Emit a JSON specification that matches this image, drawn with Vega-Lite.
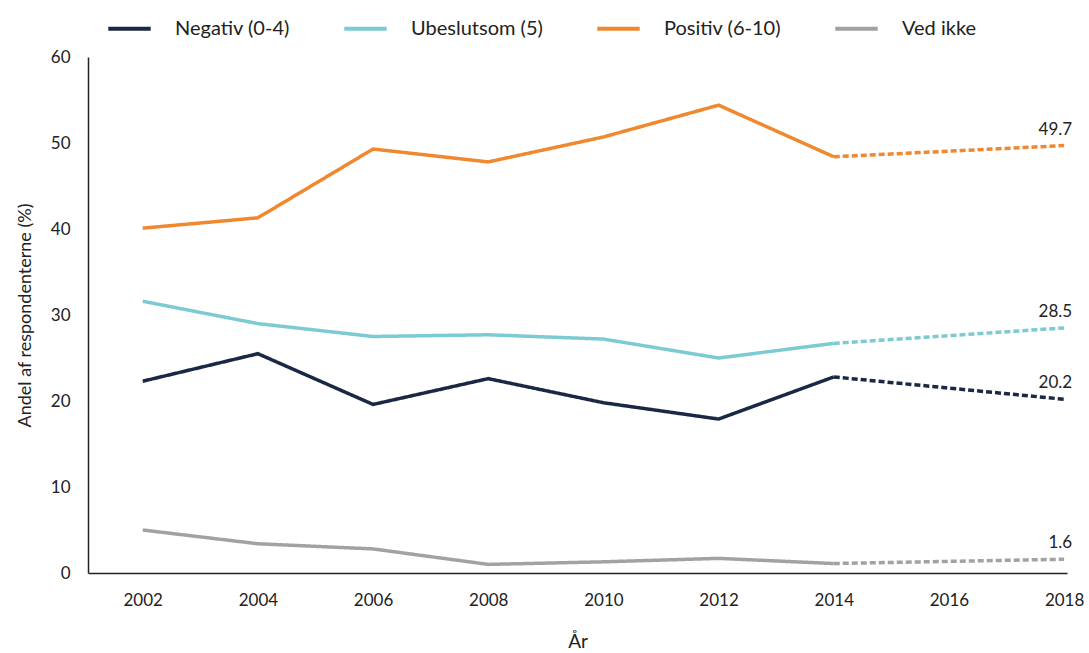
{
  "$schema": "https://vega.github.io/schema/vega-lite/v6.json",
  "autosize": {"type": "none"},
  "padding": {"left": 88, "top": 57, "right": 22, "bottom": 80},
  "width": 979,
  "height": 516,
  "background": "white",
  "config": {"font": "Lato", "view": {"stroke": null}},
  "data": {"values": [
    {"kat": "Negativ (0-4)", "aar": 2002, "v": 22.3, "seg": "solid"},
    {"kat": "Negativ (0-4)", "aar": 2004, "v": 25.5, "seg": "solid"},
    {"kat": "Negativ (0-4)", "aar": 2006, "v": 19.6, "seg": "solid"},
    {"kat": "Negativ (0-4)", "aar": 2008, "v": 22.6, "seg": "solid"},
    {"kat": "Negativ (0-4)", "aar": 2010, "v": 19.8, "seg": "solid"},
    {"kat": "Negativ (0-4)", "aar": 2012, "v": 17.9, "seg": "solid"},
    {"kat": "Negativ (0-4)", "aar": 2014, "v": 22.8, "seg": "solid"},
    {"kat": "Negativ (0-4)", "aar": 2014, "v": 22.8, "seg": "dashed"},
    {"kat": "Negativ (0-4)", "aar": 2018, "v": 20.2, "seg": "dashed", "lab": "20.2"},
    {"kat": "Ubeslutsom (5)", "aar": 2002, "v": 31.6, "seg": "solid"},
    {"kat": "Ubeslutsom (5)", "aar": 2004, "v": 29.0, "seg": "solid"},
    {"kat": "Ubeslutsom (5)", "aar": 2006, "v": 27.5, "seg": "solid"},
    {"kat": "Ubeslutsom (5)", "aar": 2008, "v": 27.7, "seg": "solid"},
    {"kat": "Ubeslutsom (5)", "aar": 2010, "v": 27.2, "seg": "solid"},
    {"kat": "Ubeslutsom (5)", "aar": 2012, "v": 25.0, "seg": "solid"},
    {"kat": "Ubeslutsom (5)", "aar": 2014, "v": 26.7, "seg": "solid"},
    {"kat": "Ubeslutsom (5)", "aar": 2014, "v": 26.7, "seg": "dashed"},
    {"kat": "Ubeslutsom (5)", "aar": 2018, "v": 28.5, "seg": "dashed", "lab": "28.5"},
    {"kat": "Positiv (6-10)", "aar": 2002, "v": 40.1, "seg": "solid"},
    {"kat": "Positiv (6-10)", "aar": 2004, "v": 41.3, "seg": "solid"},
    {"kat": "Positiv (6-10)", "aar": 2006, "v": 49.3, "seg": "solid"},
    {"kat": "Positiv (6-10)", "aar": 2008, "v": 47.8, "seg": "solid"},
    {"kat": "Positiv (6-10)", "aar": 2010, "v": 50.7, "seg": "solid"},
    {"kat": "Positiv (6-10)", "aar": 2012, "v": 54.4, "seg": "solid"},
    {"kat": "Positiv (6-10)", "aar": 2014, "v": 48.4, "seg": "solid"},
    {"kat": "Positiv (6-10)", "aar": 2014, "v": 48.4, "seg": "dashed"},
    {"kat": "Positiv (6-10)", "aar": 2018, "v": 49.7, "seg": "dashed", "lab": "49.7"},
    {"kat": "Ved ikke", "aar": 2002, "v": 5.0, "seg": "solid"},
    {"kat": "Ved ikke", "aar": 2004, "v": 3.4, "seg": "solid"},
    {"kat": "Ved ikke", "aar": 2006, "v": 2.8, "seg": "solid"},
    {"kat": "Ved ikke", "aar": 2008, "v": 1.0, "seg": "solid"},
    {"kat": "Ved ikke", "aar": 2010, "v": 1.3, "seg": "solid"},
    {"kat": "Ved ikke", "aar": 2012, "v": 1.7, "seg": "solid"},
    {"kat": "Ved ikke", "aar": 2014, "v": 1.1, "seg": "solid"},
    {"kat": "Ved ikke", "aar": 2014, "v": 1.1, "seg": "dashed"},
    {"kat": "Ved ikke", "aar": 2018, "v": 1.6, "seg": "dashed", "lab": "1.6"}
  ]},
  "encoding": {
    "x": {
      "field": "aar", "type": "quantitative",
      "scale": {"domain": [2001.05, 2018.05], "nice": false, "zero": false},
      "axis": {
        "title": "År", "values": [2002, 2004, 2006, 2008, 2010, 2012, 2014, 2016, 2018],
        "format": "d", "grid": false, "ticks": false, "domainColor": "#222222", "domainWidth": 1.5,
        "labelFontSize": 17, "labelColor": "#222222", "labelPadding": 19,
        "titleFontSize": 19, "titleFontWeight": "normal", "titleColor": "#222222", "titlePadding": 24
      }
    },
    "y": {
      "field": "v", "type": "quantitative",
      "scale": {"domain": [0, 60], "nice": false},
      "axis": {
        "title": "Andel af respondenterne (%)", "values": [0, 10, 20, 30, 40, 50, 60],
        "grid": false, "ticks": false, "domainColor": "#222222", "domainWidth": 1.5,
        "labelFontSize": 17, "labelColor": "#222222", "labelPadding": 18,
        "titleFontSize": 18, "titleFontWeight": "normal", "titleColor": "#222222", "titlePadding": 16
      }
    },
    "color": {
      "field": "kat", "type": "nominal",
      "sort": ["Negativ (0-4)", "Ubeslutsom (5)", "Positiv (6-10)", "Ved ikke"],
      "scale": {
        "domain": ["Negativ (0-4)", "Ubeslutsom (5)", "Positiv (6-10)", "Ved ikke"],
        "range": ["#1b2845", "#7ccad2", "#f0882f", "#a2a2a2"]
      },
      "legend": {
        "title": null, "orient": "none", "direction": "horizontal",
        "legendX": 18, "legendY": -52,
        "symbolType": "stroke", "symbolSize": 1800, "symbolStrokeWidth": 4,
        "labelFontSize": 20, "labelColor": "#222222", "labelOffset": 22,
        "columnPadding": 46
      }
    }
  },
  "layer": [
    {
      "mark": {"type": "line", "strokeWidth": 3.5},
      "encoding": {
        "detail": {"field": "seg"},
        "strokeDash": {
          "field": "seg", "type": "nominal",
          "scale": {"domain": ["solid", "dashed"], "range": [[1, 0], [6, 3]]},
          "legend": null
        }
      }
    },
    {
      "mark": {"type": "text", "align": "right", "dx": 8, "dy": -16, "fontSize": 17, "color": "#222222"},
      "transform": [{"filter": "datum.lab != null"}],
      "encoding": {
        "text": {"field": "lab"},
        "color": {"value": "#222222"}
      }
    }
  ]
}
